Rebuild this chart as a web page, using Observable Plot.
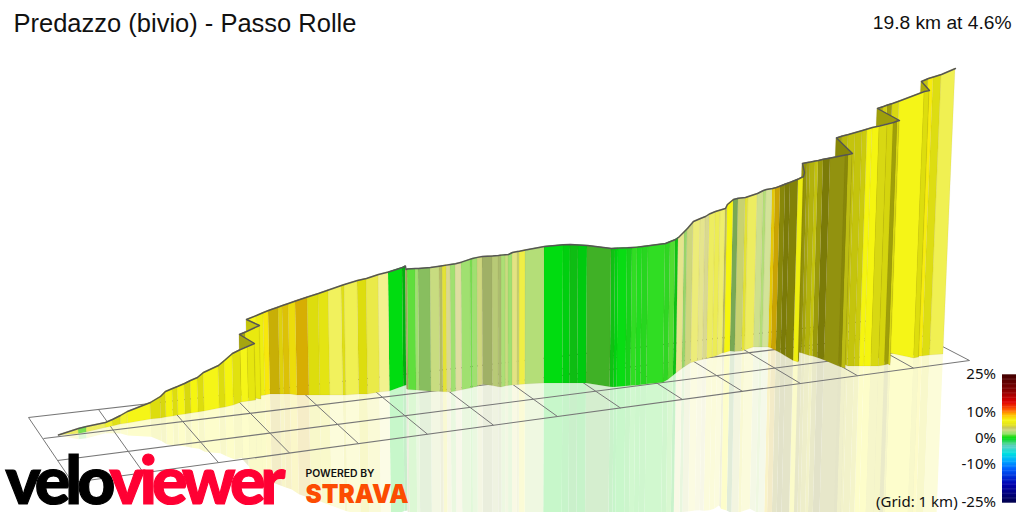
<!DOCTYPE html>
<html><head><meta charset="utf-8">
<style>html,body{margin:0;padding:0;background:#fff}svg{display:block}</style>
<script src="https://cdn.jsdelivr.net/npm/d3@7"></script>
<script src="https://cdn.jsdelivr.net/npm/@observablehq/plot@0.6"></script>
</head><body><div id="chart"></div>
<script>
// Route stations: projected position, road top, wall foot.
const stationX = [
 58,78,86,105,112,120,127,150,160,165,
 172,177,184,190,197,203,218,224,232,240,
 247,254,239,245,259,246,256,263,268,278,
 282,288,295,307,318,328,341,344,357,366,
 378,388,402,405,405.5,407,415,418,430,439,
 442,446,450,455,461,470,472,477,482,492,
 498,501,505,508,512,517,519,525,544,563,
 570,578,587,611,615,618,627,632,637,642,
 648,665,670,675,678,684,687,693,700,705,
 709,715,720,725,727,733,738,745,748,757,
 763,766,772,775,780,785,790,798,803,804,
 802,807,810,815,818,823,830,845,848,852,
 836,842,848,855,862,867,872,879,887,893,
 897,899,877,883,887,892,899,924,929,921,
 928,933,941,955];
const stationTop = [
 434.5,428,426,422,419,415,411,402,396,391,
 388,386,383,380,377,372,365,360,353,349,
 346,343,334,331.5,325,319,315,312,310,306.5,
 305,303,300.5,296.5,293,289.5,285,284,280,278,
 274,271.5,267,265.5,269,268.5,268,268,267,265.7,
 265.2,264.6,264,263.3,261.7,258.7,258,256.9,256,255.5,
 255,254.6,254.2,254,252,251,250.7,249.5,246,244.3,
 244,244.5,245,248,247.8,247.6,247.3,247,246.6,246,
 245.2,243,241,239,237,231,228,221,218,216,
 213.5,211,209.5,208,204,199,197.7,197,196,193,
 190,189,188,187.3,185.5,183.5,181.7,178.5,176,172,
 163,162,161.5,160.5,160,158.8,157.5,154.5,154,153,
 137.5,135.5,134,132,130,128.5,127,125.5,123.5,122,
 120.5,120,108,106,104.5,103,100.5,91,90,81,
 78,76.5,74,68];
const stationBase = [
 435,433.5,432,427.5,426,424,423,419,418,417,
 416,415,414,413,412,411,408,407,405,402,
 401,400,395,397,399,395,396,395,394,394,
 394,394,395,395,395,395,395,395,394,394,
 392,391,386,385,389,389.5,390,390.2,391.2,391.5,
 391.7,391.8,392,391,389.8,388,387.5,386,384.3,385.6,
 386.7,387,386,385.5,385,384.8,384.6,384,383,383,
 383,383,383,386.7,387,386.7,386,385.6,385.3,384.8,
 384,382.2,379.5,375.5,373,368.5,366.5,362.7,360.7,359.5,
 358.5,357,355.5,353,352.7,351,351.5,351,350,347,
 347,347,347,348,350.5,353,356,360.5,362,361,
 352,353,354,355.5,356,357.5,360,366,367,368,
 358,360,362,366,366,366,366,366,366,365,
 364,365,352,352.5,353,353,353,358,357,354,
 356,356,355,354];
// Gradient (%) of the stretch leaving each station, and its wall lighting.
const grade = [
 5.5,1.5,5.5,6.5,6,6.5,7,7,7,7,
 7,7,7,7,7,7,7,7,7,7,
 7,6,6,7,7,7,7,7.5,8,7.5,
 8,7.5,8.5,7,6.5,6,6,6,7,5.5,
 5.5,0,0,3.5,3.5,1.2,2,2,3,3.5,
 5,4,2,4,2,1.5,2,3.5,3,3,
 3,2.3,3,2,4.5,3.5,6,2.5,0,0,
 .2,0,1,.2,0,.1,.3,.6,.4,.5,
 .6,.6,1,.2,4.5,2,3.5,5,4.5,4,
 5.5,5.5,5.5,4,7,2,3.5,5,5.5,3,
 2.5,3,8,8.5,7,7,7,7,7,7,
 7,7,7,7,7,7,6,7,6,7,
 7,7,7,7,7,7,7,6.5,7,7,
 6.5,7,7,7,7,6.5,7,7,7,7,
 7.3,6.5,6];
const shade = [
 -.3,0,-.3,-.1,.05,-.1,-.03,.1,.12,0,
 .1,0,.12,0,.1,-.03,.1,0,.08,-.03,
 .06,.3,.3,.05,.2,-.03,.03,0,.2,.1,
 .12,.05,.15,.1,.05,-.3,.05,-.25,.1,-.2,
 -.5,0,.2,.2,.2,0,0,.15,0,.1,
 -.1,-.3,0,-.4,0,0,0,-.1,.2,.08,
 .15,0,0,0,-.35,0,-.2,0,0,.06,
 .14,.08,.2,.12,.04,0,.05,0,0,.03,
 0,.03,0,.12,-.4,.05,-.1,-.4,-.4,-.3,
 -.3,-.25,-.35,.05,0,.25,0,-.1,-.3,-.1,
 0,-.2,.08,.2,.45,.5,.47,.03,.4,.4,
 .4,.33,.27,.2,.37,.5,.38,.45,.2,.45,
 .35,.25,.2,.2,.17,0,0,.1,.13,.35,
 .1,.35,.3,.15,.35,.1,-.03,.1,.3,.2,
 0,.08,-.25];
// Floor grid, road-wise rows and km-wise columns, ends.
const rowLeftX = [28,43,57,72], rowLeftY = [417,438,460,482];
const rowRightX = [888,915,942,969], rowRightY = [318,332,346,360];
const colFrontX = [72,143,218,289,358,427,493,557,620,682,742,800,857,913,969];
const colFrontY = [482,472.3,462.1,452.5,443.1,433.7,424.7,416,407.5,399,390.9,383,375.2,367.6,360];
const colBackX = [28,98,165,231,296,360,423,485,546,606,665,723,779,835,888];
const colBackY = [417,409,401.2,393.7,386.2,378.8,371.6,364.4,357.4,350.5,343.7,337,330.6,324.1,318];
// Colour legend
const legendStops = [-25,-18,-12,-9,-6,-3,0,1,2,3,4,5,7,9,11,14,19,25];
const legendColors = ["#000050","#0000b0","#0060ff","#00a8ff","#00e0e0","#60d0c0","#00dc10","#50dd30","#a0e070","#c8dc80","#c8c860","#e0e020","#f5f510","#ffc000","#ff6000","#e00000","#800000","#400000"];
const legendTicks = [25,10,0,-10];
const title = "Predazzo (bivio) - Passo Rolle";
const summary = "19.8 km at 4.6%";

const LEAN = 9.5e-5, MIRROR = 1.05, FLOOR_SHEEN = .22;
const ramp = d3.scaleLinear(legendStops,legendColors).interpolate(d3.interpolateRgb).clamp(true);
const wallColor = s => d3.interpolateRgb(ramp(grade[s]), shade[s]>0?"#000":"#fff")(Math.abs(shade[s]));
const sheenColor = s => d3.interpolateRgb("#fff", wallColor(s))(FLOOR_SHEEN);
const foot = i => stationX[i] - (stationX[i]-512)*LEAN*(stationBase[i]-stationTop[i]);
const rows = [];
for (let s = grade.length-1; s >= 0; s--) for (const i of [s, s+1]) {
  const bx = foot(i);
  rows.push({seg:s, wall:wallColor(s), sheen:sheenColor(s), tx:stationX[i], ty:stationTop[i], bx, by:stationBase[i],
    rx: bx-(stationX[i]-bx), ry: stationBase[i]+(stationBase[i]-stationTop[i])*MIRROR});
}
const road = stationX.map((x,i)=>({x,y:stationTop[i]}));
const gridRows = rowLeftX.map((x,i)=>({x1:x,y1:rowLeftY[i],x2:rowRightX[i],y2:rowRightY[i]}));
const gridCols = colFrontX.map((x,i)=>({x1:x,y1:colFrontY[i],x2:colBackX[i],y2:colBackY[i]}));
const BAR0 = 438.7, BARK = 2.56;
const barCells = d3.range(-25,25,.5).map(g=>({c:ramp(g),y1:BAR0-g*BARK,y2:BAR0-(g+.5)*BARK-.4}));
const sans = "Noto Sans";

const chart = Plot.plot({
  width:1024, height:512, margin:0,
  x:{domain:[0,1024],range:[0,1024],axis:null},
  y:{domain:[512,0],range:[512,0],axis:null},
  marks:[
    Plot.area(rows,{x1:"bx",y1:"by",x2:"rx",y2:"ry",z:"seg",fill:"sheen"}),
    Plot.link(gridRows,{x1:"x1",y1:"y1",x2:"x2",y2:"y2",stroke:"#777",strokeWidth:1.15}),
    Plot.link(gridCols,{x1:"x1",y1:"y1",x2:"x2",y2:"y2",stroke:"#777",strokeWidth:1}),
    // walls: later stretches first, so that nearer folds cover them
    Plot.area(rows,{x1:"tx",y1:"ty",x2:"bx",y2:"by",z:"seg",fill:"wall",stroke:"#6b5a30",strokeOpacity:.12,strokeWidth:.6}),
    Plot.line(road,{x:"x",y:"y",stroke:"#555",strokeWidth:1.4}),
    Plot.rect(barCells,{x1:()=>1002,x2:()=>1016,y1:"y1",y2:"y2",fill:"c"}),
    Plot.text(legendTicks,{x:()=>995.5,y:d=>BAR0-d*BARK-1,text:d=>d+"%",textAnchor:"end",fontFamily:sans,fontSize:15,fill:"#111"}),
    Plot.text([summary],{x:()=>1011,y:()=>22,text:d=>d,textAnchor:"end",fontFamily:"Liberation Sans",fontSize:19.2,fill:"#111"}),
    Plot.text([title],{x:()=>13,y:()=>23,text:d=>d,textAnchor:"start",fontFamily:"Liberation Sans",fontSize:25.5,fill:"#111"}),
    Plot.text(["(Grid: 1 km) -25%"],{x:()=>995.5,y:()=>502,text:d=>d,textAnchor:"end",fontFamily:sans,fontSize:15,fill:"#111"}),
    Plot.text(["veloviewer"],{x:()=>5,y:()=>482,text:d=>d,textAnchor:"start",fontFamily:"Lato",fontWeight:900,fontSize:66}),
    Plot.text(["POWERED BY"],{x:()=>305,y:()=>473,text:d=>d,textAnchor:"start",fontFamily:"Inter",fontWeight:600,fontSize:10,fill:"#111"}),
    Plot.text(["STRAVA"],{x:()=>305,y:()=>494,text:d=>d,textAnchor:"start",fontFamily:"Inter",fontWeight:900,fontSize:26,fill:"#fc4c02"})
  ]
});
document.getElementById("chart").append(chart);
const fit = {veloviewer:280,"POWERED BY":69,STRAVA:103};
d3.select(chart).selectAll("text").each(function(){
  const t = this.textContent, w = fit[t];
  if (!w) return;
  this.setAttribute("textLength",w);
  this.setAttribute("lengthAdjust",t==="veloviewer"?"spacing":"spacingAndGlyphs");
  if (t==="veloviewer") {
    this.textContent="";
    for (const [part,c] of [["velo","#000"],["viewer","#ff0033"]]) {
      d3.select(this).append("tspan").text(part).attr("fill",c).attr("stroke",c).attr("stroke-width",1.2);
    }
  }
});
</script></body></html>
